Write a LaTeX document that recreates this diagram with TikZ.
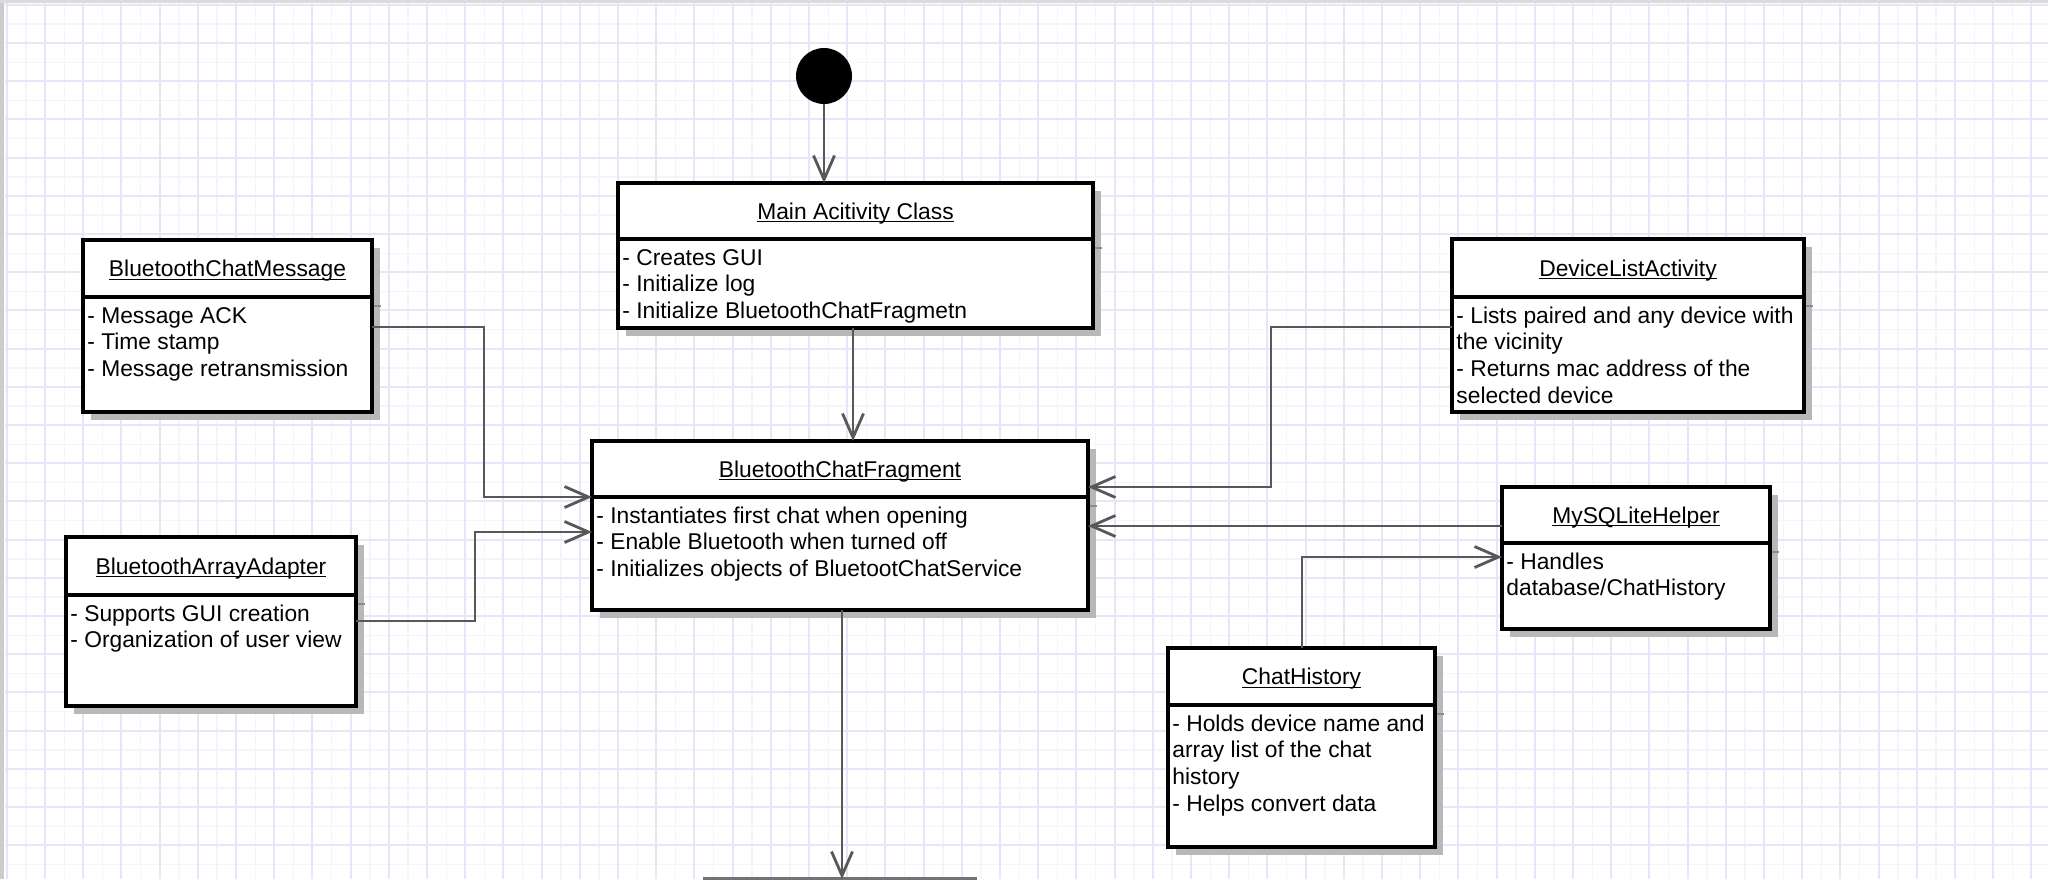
\documentclass[tikz,border=0pt]{standalone}
\usepackage{fontspec}
\setmainfont{Liberation Sans}
\usetikzlibrary{arrows.meta}

\definecolor{gridmajor}{RGB}{230,230,248}
\definecolor{gridminor}{RGB}{244,244,252}
\definecolor{connc}{RGB}{88,88,88}

\newcommand\boxfont{\fontsize{11.4pt}{13.4pt}\selectfont}
\newsavebox\ulbox
\newcommand\ulin[1]{\sbox\ulbox{#1}\rlap{\rule[-1.6pt]{\wd\ulbox}{0.6pt}}\usebox\ulbox}

\tikzset{
  umlframe/.style={draw=black, line width=1.7pt, fill=white, inner sep=0pt, outer sep=0pt, rectangle},
  umlline/.style={draw=black, line width=1.7pt},
  boxshadow/.style={fill=black!28},
  boxshadowline/.style={draw=black!45, line width=1pt},
  titletext/.style={anchor=base, inner sep=0pt, font=\boxfont},
  bodytext/.style={anchor=base west, inner sep=0pt, font=\boxfont},
  conn/.style={draw=connc, line width=1.4pt, -{Straight Barb[length=12pt,width=10.5pt]}},
  startdot/.style={circle, fill=black, inner sep=0pt, minimum size=28pt},
}

% class box: name, left, top, right, divider, bottom, title, body lines
\newcommand\umlbox[8]{%
  \fill[boxshadow] (#2+8,#3+8) rectangle (#4+8,#6+8);
  \draw[boxshadowline] (#4,#5+9) -- (#4+9,#5+9);
  \node[umlframe, anchor=north west, minimum width={(#4-#2)*0.5pt}, minimum height={(#6-#3)*0.5pt}] (#1) at (#2,#3) {};
  \draw[umlline] (#1.west |- 0,#5) -- (#1.east |- 0,#5);
  \node[titletext] (#1-title) at ({(#2+#4)/2},{(#3+#5)/2+8}) {\ulin{#7}};
  \foreach \t [count=\i] in {#8} {\node[bodytext] (#1-l\i) at (#2+4,{#5+26+(\i-1)*26.7}) {\t};}
}

\begin{document}
\begin{tikzpicture}[x=0.5pt,y=-0.5pt]
\useasboundingbox (0,0) rectangle (2048,879);
\clip (0,0) rectangle (2048,879);
\fill[white] (0,0) rectangle (2048,879);

% squared paper
\foreach \i in {0,...,107} {
  \draw[gridminor, line width=0.7pt] ({26+38.2*\i/2},3) -- ({26+38.2*\i/2},879);
}
\foreach \i in {0,...,46} {
  \draw[gridminor, line width=0.7pt] (5,{24+38.2*\i/2}) -- (2048,{24+38.2*\i/2});
}
\foreach \i in {0,...,53} {
  \draw[gridmajor, line width=1pt] ({6.8+38.2*\i},3) -- ({6.8+38.2*\i},879);
}
\foreach \i in {0,...,23} {
  \draw[gridmajor, line width=1pt] (5,{4.8+38.2*\i}) -- (2048,{4.8+38.2*\i});
}
\fill[black!20] (0,0) rectangle (4,879);
\fill[black!14] (0,0) rectangle (2048,2.5);

% initial state
\node[startdot] (start) at (824,76) {};

% classes
\umlbox{main}{618}{183}{1093}{239}{328}{Main Acitivity Class}
  {- Creates GUI,- Initialize log,- Initialize BluetoothChatFragmetn}
\umlbox{bcm}{83}{240}{372}{297}{412}{BluetoothChatMessage}
  {- Message ACK,- Time stamp,- Message retransmission}
\umlbox{baa}{66}{537}{356}{595}{706}{BluetoothArrayAdapter}
  {- Supports GUI creation,- Organization of user view}
\umlbox{frag}{592}{441}{1088}{497}{610}{BluetoothChatFragment}
  {- Instantiates first chat when opening,- Enable Bluetooth when turned off,- Initializes objects of BluetootChatService}
\umlbox{dla}{1452}{239}{1804}{297}{412}{DeviceListActivity}
  {- Lists paired and any device with,the vicinity,- Returns mac address of the,selected device}
\umlbox{msh}{1502}{487}{1770}{543}{629}{MySQLiteHelper}
  {- Handles,database/ChatHistory}
\umlbox{ch}{1168}{648}{1435}{705}{847}{ChatHistory}
  {- Holds device name and,array list of the chat,history,- Helps convert data}

% next class, cut by the lower edge
\node[draw=black!55, line width=1.7pt, fill=white, inner sep=0pt, outer sep=0pt, anchor=north west, minimum width=135pt, minimum height=40pt] (next) at (705,879) {};

% connectors
\draw[conn] (start.south) -- (start.south |- main.north);
\draw[conn] (main.south -| 853,0) -- (frag.north -| 853,0);
\draw[conn] (bcm.east |- 0,327) -| (484,497) -- (frag.west |- 0,497);
\draw[conn] (baa.east |- 0,621) -| (475,532) -- (frag.west |- 0,532);
\draw[conn] (dla.west |- 0,327) -| (1271,487) -- (frag.east |- 0,487);
\draw[conn] (msh.west |- 0,526) -- (frag.east |- 0,526);
\draw[conn] (ch.north -| 1302,0) |- (msh.west |- 0,557);
\draw[conn] (frag.south -| 842,0) -- (next.north -| 842,0);
\end{tikzpicture}
\end{document}
